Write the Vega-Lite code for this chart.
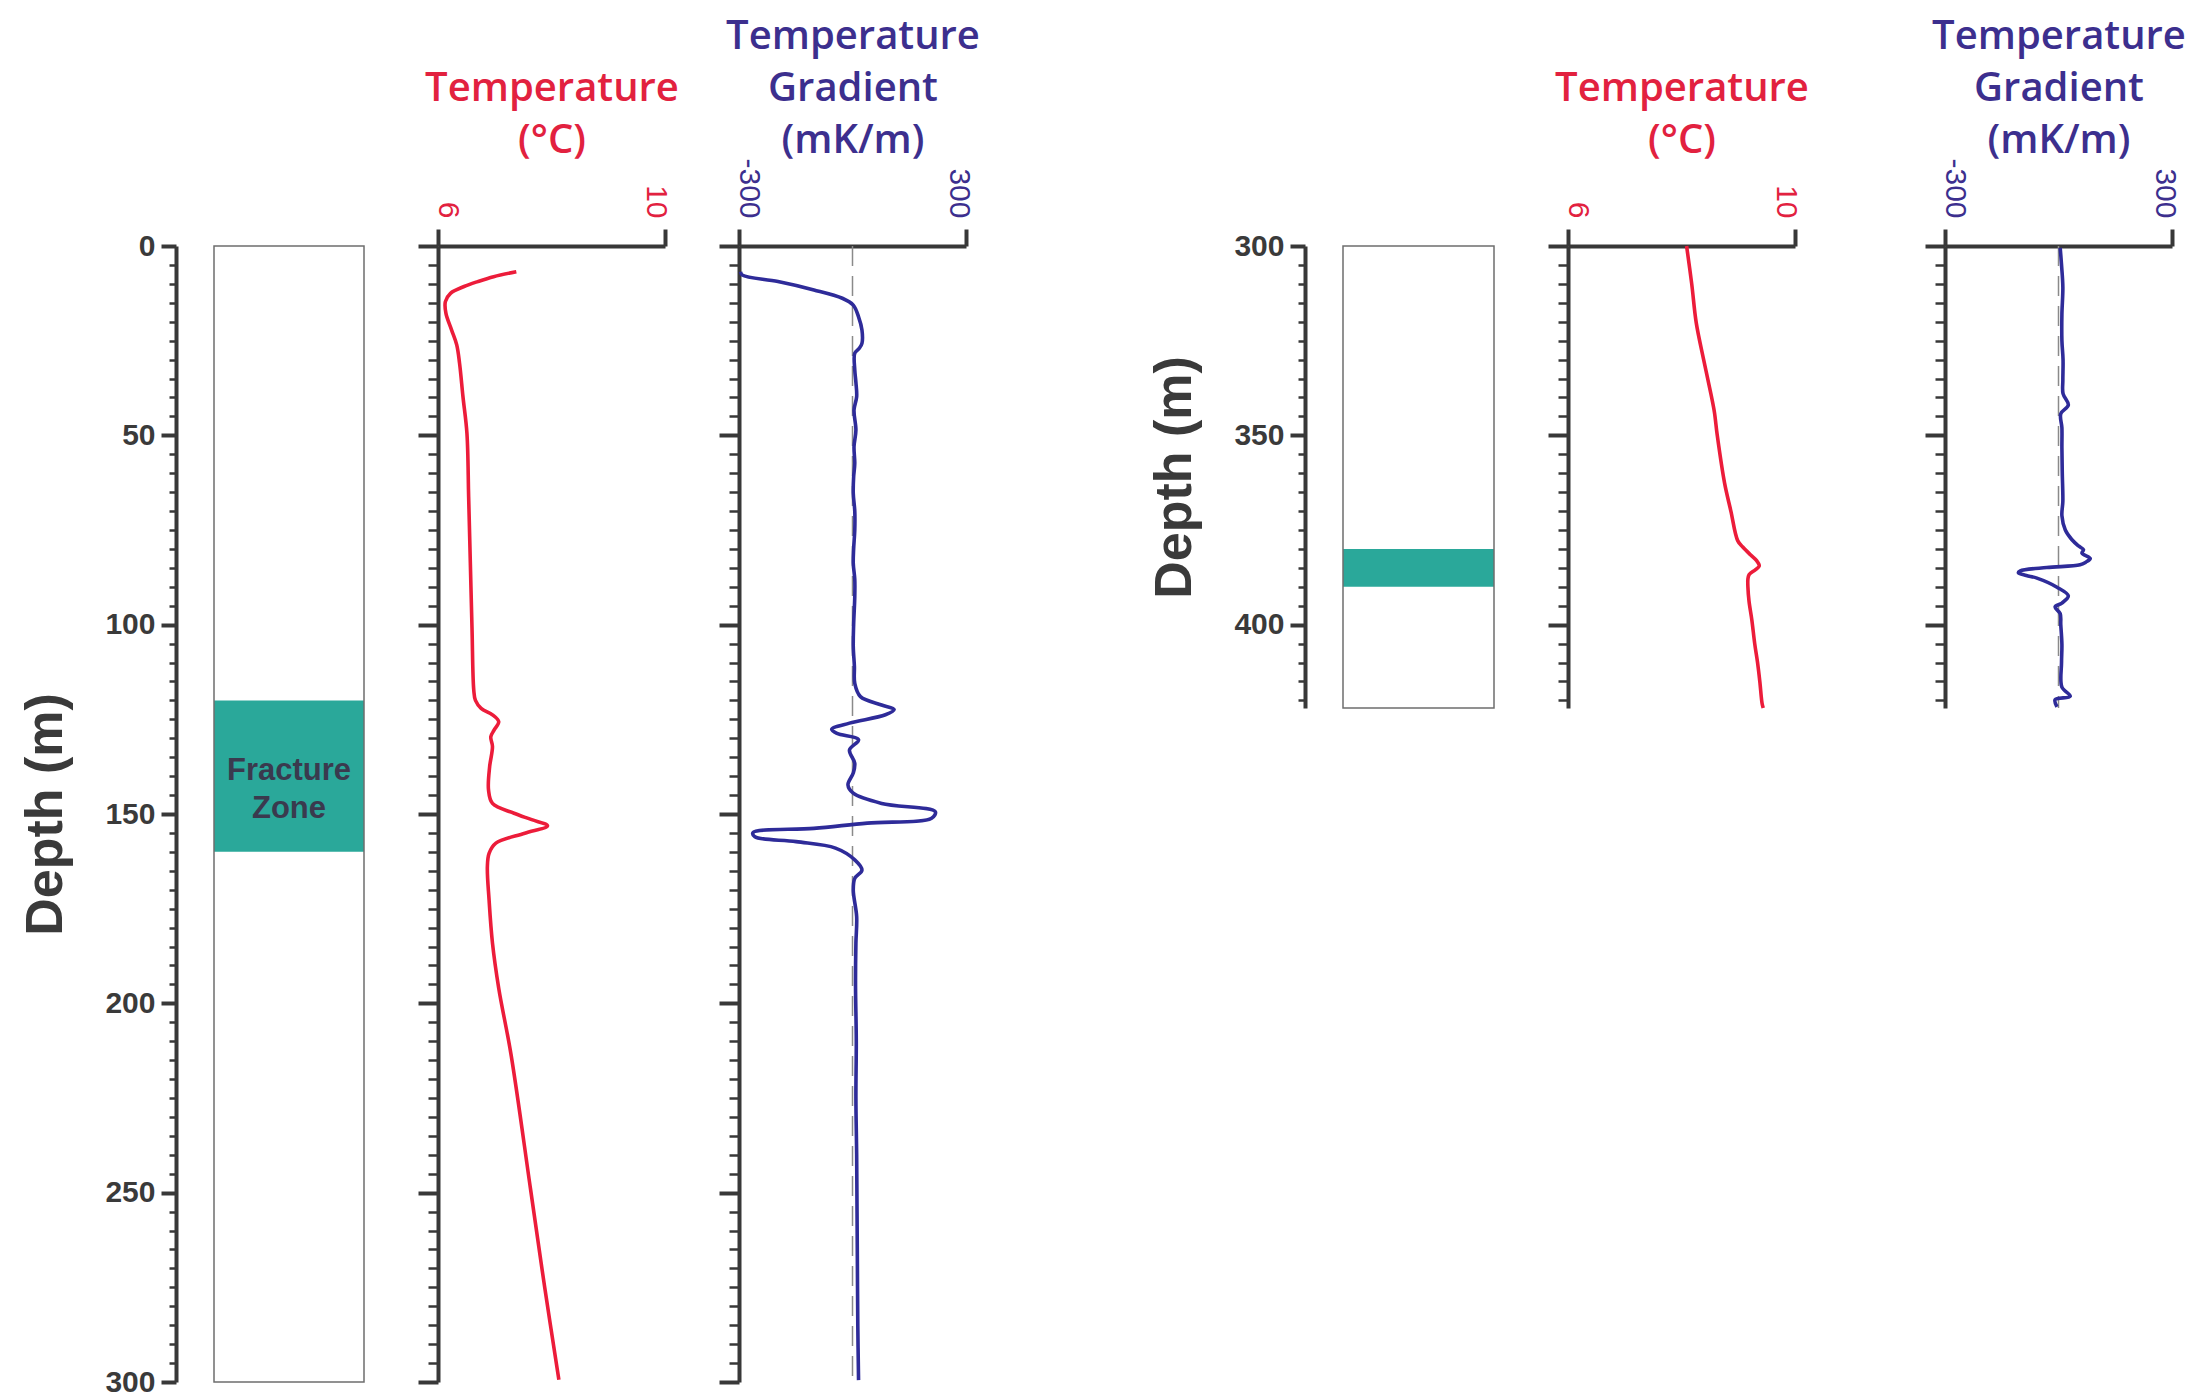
{
  "$schema": "https://vega.github.io/schema/vega-lite/v6.json",
  "padding": {"left": 19, "top": 16, "right": 5, "bottom": 0},
  "background": "white",
  "config": {
    "view": {"stroke": null},
    "axis": {"domainColor": "#383838", "tickColor": "#383838", "domainWidth": 4, "labelFont": "Liberation Sans", "labelFontSize": 30, "grid": false, "labelOverlap": false, "labelFlush": false, "labelBound": false}
  },
  "datasets": {
    "boreL": [{"d0": 0, "d1": 300}],
    "zoneL": [{"d0": 120, "d1": 160}],
    "labelL": [{"d0": 138.6, "label": "Fracture\nZone"}],
    "boreR": [{"d0": 300, "d1": 422}],
    "zoneR": [{"d0": 380, "d1": 390}],
    "zero": [{"G": 0}],
    "tempL": [
      {"depth": 6.8, "T": 7.38}, {"depth": 8.1, "T": 6.98}, {"depth": 9.4, "T": 6.7}, {"depth": 10.7, "T": 6.46}, {"depth": 12.5, "T": 6.22},
      {"depth": 14.7, "T": 6.13}, {"depth": 17.8, "T": 6.14}, {"depth": 22.2, "T": 6.24}, {"depth": 26.1, "T": 6.33}, {"depth": 31, "T": 6.38},
      {"depth": 39.8, "T": 6.44}, {"depth": 49.5, "T": 6.51}, {"depth": 66.2, "T": 6.54}, {"depth": 83.8, "T": 6.57}, {"depth": 101.4, "T": 6.6},
      {"depth": 117.2, "T": 6.63}, {"depth": 120, "T": 6.66}, {"depth": 122.1, "T": 6.76}, {"depth": 123.8, "T": 6.96}, {"depth": 125.6, "T": 7.07},
      {"depth": 127.8, "T": 6.99}, {"depth": 129.6, "T": 6.93}, {"depth": 132.2, "T": 6.96}, {"depth": 137.5, "T": 6.91}, {"depth": 143.6, "T": 6.89},
      {"depth": 147.2, "T": 6.96}, {"depth": 149.8, "T": 7.34}, {"depth": 151.5, "T": 7.65}, {"depth": 153.1, "T": 7.93}, {"depth": 155.1, "T": 7.53},
      {"depth": 157.7, "T": 7.02}, {"depth": 160.4, "T": 6.9}, {"depth": 163.9, "T": 6.87}, {"depth": 172.7, "T": 6.9}, {"depth": 184.1, "T": 6.96},
      {"depth": 196, "T": 7.07}, {"depth": 213.8, "T": 7.29}, {"depth": 249, "T": 7.63}, {"depth": 275, "T": 7.88}, {"depth": 299.4, "T": 8.13}
    ],
    "gradL": [
      {"depth": 6.8, "G": -296}, {"depth": 7.7, "G": -291}, {"depth": 9.4, "G": -197}, {"depth": 11.6, "G": -102}, {"depth": 13.8, "G": -27},
      {"depth": 15.6, "G": 2}, {"depth": 18.7, "G": 16}, {"depth": 22.2, "G": 25}, {"depth": 25.7, "G": 25}, {"depth": 27, "G": 18},
      {"depth": 28.3, "G": 6}, {"depth": 32.7, "G": 6}, {"depth": 36, "G": 9}, {"depth": 39.8, "G": 11}, {"depth": 43.3, "G": 4},
      {"depth": 48.6, "G": 9}, {"depth": 53, "G": 4}, {"depth": 57.4, "G": 6}, {"depth": 61, "G": 3}, {"depth": 65.3, "G": 2},
      {"depth": 70, "G": 6}, {"depth": 75, "G": 6}, {"depth": 80, "G": 3}, {"depth": 83.8, "G": 2}, {"depth": 88, "G": 6},
      {"depth": 92.6, "G": 6}, {"depth": 100, "G": 3}, {"depth": 105.8, "G": 2}, {"depth": 111, "G": 5}, {"depth": 115.5, "G": 6},
      {"depth": 119, "G": 21}, {"depth": 121.2, "G": 77}, {"depth": 122.4, "G": 110}, {"depth": 123.8, "G": 87}, {"depth": 126, "G": -8},
      {"depth": 127.6, "G": -55}, {"depth": 128.7, "G": -41}, {"depth": 130.4, "G": 16}, {"depth": 133.1, "G": -8}, {"depth": 136.6, "G": 6},
      {"depth": 139.2, "G": 2}, {"depth": 142.3, "G": -12}, {"depth": 144.5, "G": 2}, {"depth": 147.2, "G": 77}, {"depth": 149.4, "G": 219},
      {"depth": 151.1, "G": 209}, {"depth": 152.4, "G": 39}, {"depth": 153.8, "G": -102}, {"depth": 154.9, "G": -263}, {"depth": 156, "G": -258},
      {"depth": 157.3, "G": -149}, {"depth": 159, "G": -45}, {"depth": 162.1, "G": 6}, {"depth": 164.8, "G": 25}, {"depth": 167, "G": 6},
      {"depth": 170.1, "G": 2}, {"depth": 177.1, "G": 11}, {"depth": 184.1, "G": 9}, {"depth": 195, "G": 8}, {"depth": 210, "G": 10},
      {"depth": 225, "G": 9}, {"depth": 240, "G": 11}, {"depth": 255, "G": 12}, {"depth": 270, "G": 13}, {"depth": 285, "G": 14},
      {"depth": 299.5, "G": 16}
    ],
    "tempR": [
      {"depth": 300, "T": 8.09}, {"depth": 310, "T": 8.18}, {"depth": 320.3, "T": 8.26}, {"depth": 330, "T": 8.39}, {"depth": 339.2, "T": 8.52},
      {"depth": 343.9, "T": 8.58}, {"depth": 350, "T": 8.63}, {"depth": 362.7, "T": 8.76}, {"depth": 370, "T": 8.87}, {"depth": 377.8, "T": 8.99},
      {"depth": 379.5, "T": 9.08}, {"depth": 381.6, "T": 9.22}, {"depth": 383, "T": 9.32}, {"depth": 384.5, "T": 9.37}, {"depth": 385.5, "T": 9.3},
      {"depth": 386.8, "T": 9.19}, {"depth": 388, "T": 9.17}, {"depth": 390, "T": 9.17}, {"depth": 393.8, "T": 9.19}, {"depth": 398.8, "T": 9.24},
      {"depth": 405, "T": 9.29}, {"depth": 410, "T": 9.34}, {"depth": 415, "T": 9.38}, {"depth": 420.8, "T": 9.42}, {"depth": 422, "T": 9.44}
    ],
    "gradR": [
      {"depth": 300.5, "G": 4.5}, {"depth": 305, "G": 8}, {"depth": 310.9, "G": 11.5}, {"depth": 318, "G": 9}, {"depth": 325, "G": 9},
      {"depth": 330, "G": 12}, {"depth": 335.4, "G": 11.5}, {"depth": 339, "G": 12}, {"depth": 342, "G": 26}, {"depth": 344.3, "G": 6},
      {"depth": 348, "G": 9}, {"depth": 353.3, "G": 9}, {"depth": 360, "G": 10}, {"depth": 367.4, "G": 11.5}, {"depth": 371.2, "G": 9},
      {"depth": 375, "G": 18}, {"depth": 377.5, "G": 35}, {"depth": 379.2, "G": 53}, {"depth": 380.2, "G": 66}, {"depth": 381.1, "G": 62},
      {"depth": 382.5, "G": 84}, {"depth": 383.5, "G": 72}, {"depth": 384.2, "G": 57}, {"depth": 384.9, "G": -31}, {"depth": 385.8, "G": -101},
      {"depth": 386.3, "G": -106}, {"depth": 387, "G": -85}, {"depth": 387.7, "G": -57}, {"depth": 390.1, "G": -4}, {"depth": 392.4, "G": 26},
      {"depth": 394.3, "G": 9}, {"depth": 395.3, "G": -9}, {"depth": 397.1, "G": 4.5}, {"depth": 400, "G": 6}, {"depth": 405.2, "G": 9},
      {"depth": 410, "G": 8}, {"depth": 416.5, "G": 9}, {"depth": 418.9, "G": 31}, {"depth": 419.8, "G": -9}, {"depth": 421.7, "G": -4}
    ]
  },
  "bounds": "flush",
  "spacing": 74,
  "hconcat": [
    {
      "width": 150, "height": 1136,
      "encoding": {
        "y": {"field": "d0", "type": "quantitative", "scale": {"domain": [0, 300], "reverse": true, "nice": false, "zero": false},
          "axis": {"title": "Depth  (m)", "titleFont": "Liberation Sans", "titleFontSize": 52, "titleFontWeight": "bold", "titleColor": "#3a3a3a", "titleX": -115, "titleBaseline": "alphabetic",
            "offset": 38, "values": [0,5,10,15,20,25,30,35,40,45,50,55,60,65,70,75,80,85,90,95,100,105,110,115,120,125,130,135,140,145,150,155,160,165,170,175,180,185,190,195,200,205,210,215,220,225,230,235,240,245,250,255,260,265,270,275,280,285,290,295,300],
            "labelExpr": "datum.value % 50 === 0 ? datum.label : ''", "labelFontWeight": "bold", "labelColor": "#3a3a3a", "labelPadding": 6,
            "tickSize": {"condition": {"test": "datum.value % 50 === 0", "value": 15}, "value": 7},
            "tickWidth": {"condition": {"test": "datum.value % 50 === 0", "value": 4}, "value": 2.5}}}
      },
      "layer": [
        {"data": {"name": "zoneL"}, "mark": {"type": "rect", "fill": "#2aa89a"},
          "encoding": {"x": {"datum": 0, "type": "quantitative", "scale": {"domain": [0, 1]}, "axis": null}, "x2": {"datum": 1}, "y2": {"field": "d1"}}},
        {"data": {"name": "boreL"}, "mark": {"type": "rect", "filled": false, "stroke": "#6e6e6e", "strokeWidth": 1.5},
          "encoding": {"x": {"datum": 0, "type": "quantitative", "scale": {"domain": [0, 1]}, "axis": null}, "x2": {"datum": 1}, "y2": {"field": "d1"}}},
        {"data": {"name": "labelL"}, "mark": {"type": "text", "lineBreak": "\n", "font": "Liberation Sans", "fontWeight": "bold", "fontSize": 31, "lineHeight": 38, "color": "#3a3a4e", "baseline": "middle"},
          "encoding": {"x": {"datum": 0.5, "type": "quantitative", "scale": {"domain": [0, 1]}, "axis": null}, "text": {"field": "label"}}}
      ]
    },
    {
      "width": 227, "height": 1136,
      "data": {"name": "tempL"},
      "mark": {"type": "line", "color": "#ec1c3a", "strokeWidth": 3.6, "interpolate": "catmull-rom"},
      "encoding": {
        "x": {"field": "T", "type": "quantitative", "scale": {"domain": [6, 10], "nice": false, "zero": false},
          "axis": {"orient": "top", "values": [6, 10], "title": ["Temperature", "(°C)"], "titleFont": "Open Sans", "titleFontSize": 40, "titleFontWeight": 600, "titleColor": "#e2213f", "titleLineHeight": 52, "titleBaseline": "alphabetic", "titleY": -146,
            "tickSize": 17, "tickWidth": 4, "labelAngle": 90, "labelAlign": "right", "labelBaseline": "middle", "labelPadding": 11, "labelColor": "#e2213f",
            "labelOffset": {"condition": {"test": "datum.value < 8", "value": 9}, "value": -10}}},
        "y": {"field": "depth", "type": "quantitative", "scale": {"domain": [0, 300], "reverse": true, "nice": false, "zero": false},
          "axis": {"title": null, "labels": false, "values": [0,5,10,15,20,25,30,35,40,45,50,55,60,65,70,75,80,85,90,95,100,105,110,115,120,125,130,135,140,145,150,155,160,165,170,175,180,185,190,195,200,205,210,215,220,225,230,235,240,245,250,255,260,265,270,275,280,285,290,295,300],
            "tickSize": {"condition": {"test": "datum.value % 50 === 0", "value": 20}, "value": 10},
            "tickWidth": {"condition": {"test": "datum.value % 50 === 0", "value": 4}, "value": 2.5}}},
        "order": {"field": "depth"}
      }
    },
    {
      "width": 530, "height": 1136,
      "encoding": {
        "x": {"field": "G", "type": "quantitative", "scale": {"domain": [-300, 300], "range": [0, 227], "nice": false, "zero": false},
          "axis": {"orient": "top", "values": [-300, 300], "labelExpr": "datum.value < 0 ? '-300' : '300'", "title": ["Temperature", "Gradient", "(mK/m)"], "titleFont": "Open Sans", "titleFontSize": 40, "titleFontWeight": 600, "titleColor": "#3c2f8e", "titleLineHeight": 52, "titleBaseline": "alphabetic", "titleY": -198,
            "tickSize": 17, "tickWidth": 4, "labelAngle": 90, "labelAlign": "right", "labelBaseline": "middle", "labelPadding": 11, "labelColor": "#3c2f8e",
            "labelOffset": {"condition": {"test": "datum.value < 0", "value": 9}, "value": -8}}}
      },
      "layer": [
        {"data": {"name": "zero"}, "mark": {"type": "rule", "color": "#8a8a8a", "strokeWidth": 1.5, "strokeDash": [20, 10]}},
        {"data": {"name": "gradL"}, "mark": {"type": "line", "color": "#2e2b99", "strokeWidth": 3.6, "interpolate": "catmull-rom"},
          "encoding": {
            "y": {"field": "depth", "type": "quantitative", "scale": {"domain": [0, 300], "reverse": true, "nice": false, "zero": false},
              "axis": {"title": null, "labels": false, "values": [0,5,10,15,20,25,30,35,40,45,50,55,60,65,70,75,80,85,90,95,100,105,110,115,120,125,130,135,140,145,150,155,160,165,170,175,180,185,190,195,200,205,210,215,220,225,230,235,240,245,250,255,260,265,270,275,280,285,290,295,300],
                "tickSize": {"condition": {"test": "datum.value % 50 === 0", "value": 20}, "value": 10},
                "tickWidth": {"condition": {"test": "datum.value % 50 === 0", "value": 4}, "value": 2.5}}},
            "order": {"field": "depth"}}}
      ]
    },
    {
      "width": 151, "height": 462,
      "encoding": {
        "y": {"field": "d0", "type": "quantitative", "scale": {"domain": [300, 422], "reverse": true, "nice": false, "zero": false},
          "axis": {"title": "Depth  (m)", "titleFont": "Liberation Sans", "titleFontSize": 52, "titleFontWeight": "bold", "titleColor": "#3a3a3a", "titleX": -115, "titleBaseline": "alphabetic",
            "offset": 38, "values": [300,305,310,315,320,325,330,335,340,345,350,355,360,365,370,375,380,385,390,395,400,405,410,415,420],
            "labelExpr": "datum.value % 50 === 0 ? datum.label : ''", "labelFontWeight": "bold", "labelColor": "#3a3a3a", "labelPadding": 6,
            "tickSize": {"condition": {"test": "datum.value % 50 === 0", "value": 15}, "value": 7},
            "tickWidth": {"condition": {"test": "datum.value % 50 === 0", "value": 4}, "value": 2.5}}}
      },
      "layer": [
        {"data": {"name": "zoneR"}, "mark": {"type": "rect", "fill": "#2aa89a"},
          "encoding": {"x": {"datum": 0, "type": "quantitative", "scale": {"domain": [0, 1]}, "axis": null}, "x2": {"datum": 1}, "y2": {"field": "d1"}}},
        {"data": {"name": "boreR"}, "mark": {"type": "rect", "filled": false, "stroke": "#6e6e6e", "strokeWidth": 1.5},
          "encoding": {"x": {"datum": 0, "type": "quantitative", "scale": {"domain": [0, 1]}, "axis": null}, "x2": {"datum": 1}, "y2": {"field": "d1"}}}
      ]
    },
    {
      "width": 303, "height": 462,
      "data": {"name": "tempR"},
      "mark": {"type": "line", "color": "#ec1c3a", "strokeWidth": 3.6, "interpolate": "catmull-rom"},
      "encoding": {
        "x": {"field": "T", "type": "quantitative", "scale": {"domain": [6, 10], "range": [0, 227], "nice": false, "zero": false},
          "axis": {"orient": "top", "values": [6, 10], "title": ["Temperature", "(°C)"], "titleFont": "Open Sans", "titleFontSize": 40, "titleFontWeight": 600, "titleColor": "#e2213f", "titleLineHeight": 52, "titleBaseline": "alphabetic", "titleY": -146,
            "tickSize": 17, "tickWidth": 4, "labelAngle": 90, "labelAlign": "right", "labelBaseline": "middle", "labelPadding": 11, "labelColor": "#e2213f",
            "labelOffset": {"condition": {"test": "datum.value < 8", "value": 9}, "value": -10}}},
        "y": {"field": "depth", "type": "quantitative", "scale": {"domain": [300, 422], "reverse": true, "nice": false, "zero": false},
          "axis": {"title": null, "labels": false, "values": [300,305,310,315,320,325,330,335,340,345,350,355,360,365,370,375,380,385,390,395,400,405,410,415,420],
            "tickSize": {"condition": {"test": "datum.value % 50 === 0", "value": 20}, "value": 10},
            "tickWidth": {"condition": {"test": "datum.value % 50 === 0", "value": 4}, "value": 2.5}}},
        "order": {"field": "depth"}
      }
    },
    {
      "width": 227, "height": 462,
      "encoding": {
        "x": {"field": "G", "type": "quantitative", "scale": {"domain": [-300, 300], "nice": false, "zero": false},
          "axis": {"orient": "top", "values": [-300, 300], "labelExpr": "datum.value < 0 ? '-300' : '300'", "title": ["Temperature", "Gradient", "(mK/m)"], "titleFont": "Open Sans", "titleFontSize": 40, "titleFontWeight": 600, "titleColor": "#3c2f8e", "titleLineHeight": 52, "titleBaseline": "alphabetic", "titleY": -198,
            "tickSize": 17, "tickWidth": 4, "labelAngle": 90, "labelAlign": "right", "labelBaseline": "middle", "labelPadding": 11, "labelColor": "#3c2f8e",
            "labelOffset": {"condition": {"test": "datum.value < 0", "value": 9}, "value": -8}}}
      },
      "layer": [
        {"data": {"name": "zero"}, "mark": {"type": "rule", "color": "#8a8a8a", "strokeWidth": 1.5, "strokeDash": [20, 10]}},
        {"data": {"name": "gradR"}, "mark": {"type": "line", "color": "#2e2b99", "strokeWidth": 3.6, "interpolate": "catmull-rom"},
          "encoding": {
            "y": {"field": "depth", "type": "quantitative", "scale": {"domain": [300, 422], "reverse": true, "nice": false, "zero": false},
              "axis": {"title": null, "labels": false, "values": [300,305,310,315,320,325,330,335,340,345,350,355,360,365,370,375,380,385,390,395,400,405,410,415,420],
                "tickSize": {"condition": {"test": "datum.value % 50 === 0", "value": 20}, "value": 10},
                "tickWidth": {"condition": {"test": "datum.value % 50 === 0", "value": 4}, "value": 2.5}}},
            "order": {"field": "depth"}}}
      ]
    }
  ]
}
